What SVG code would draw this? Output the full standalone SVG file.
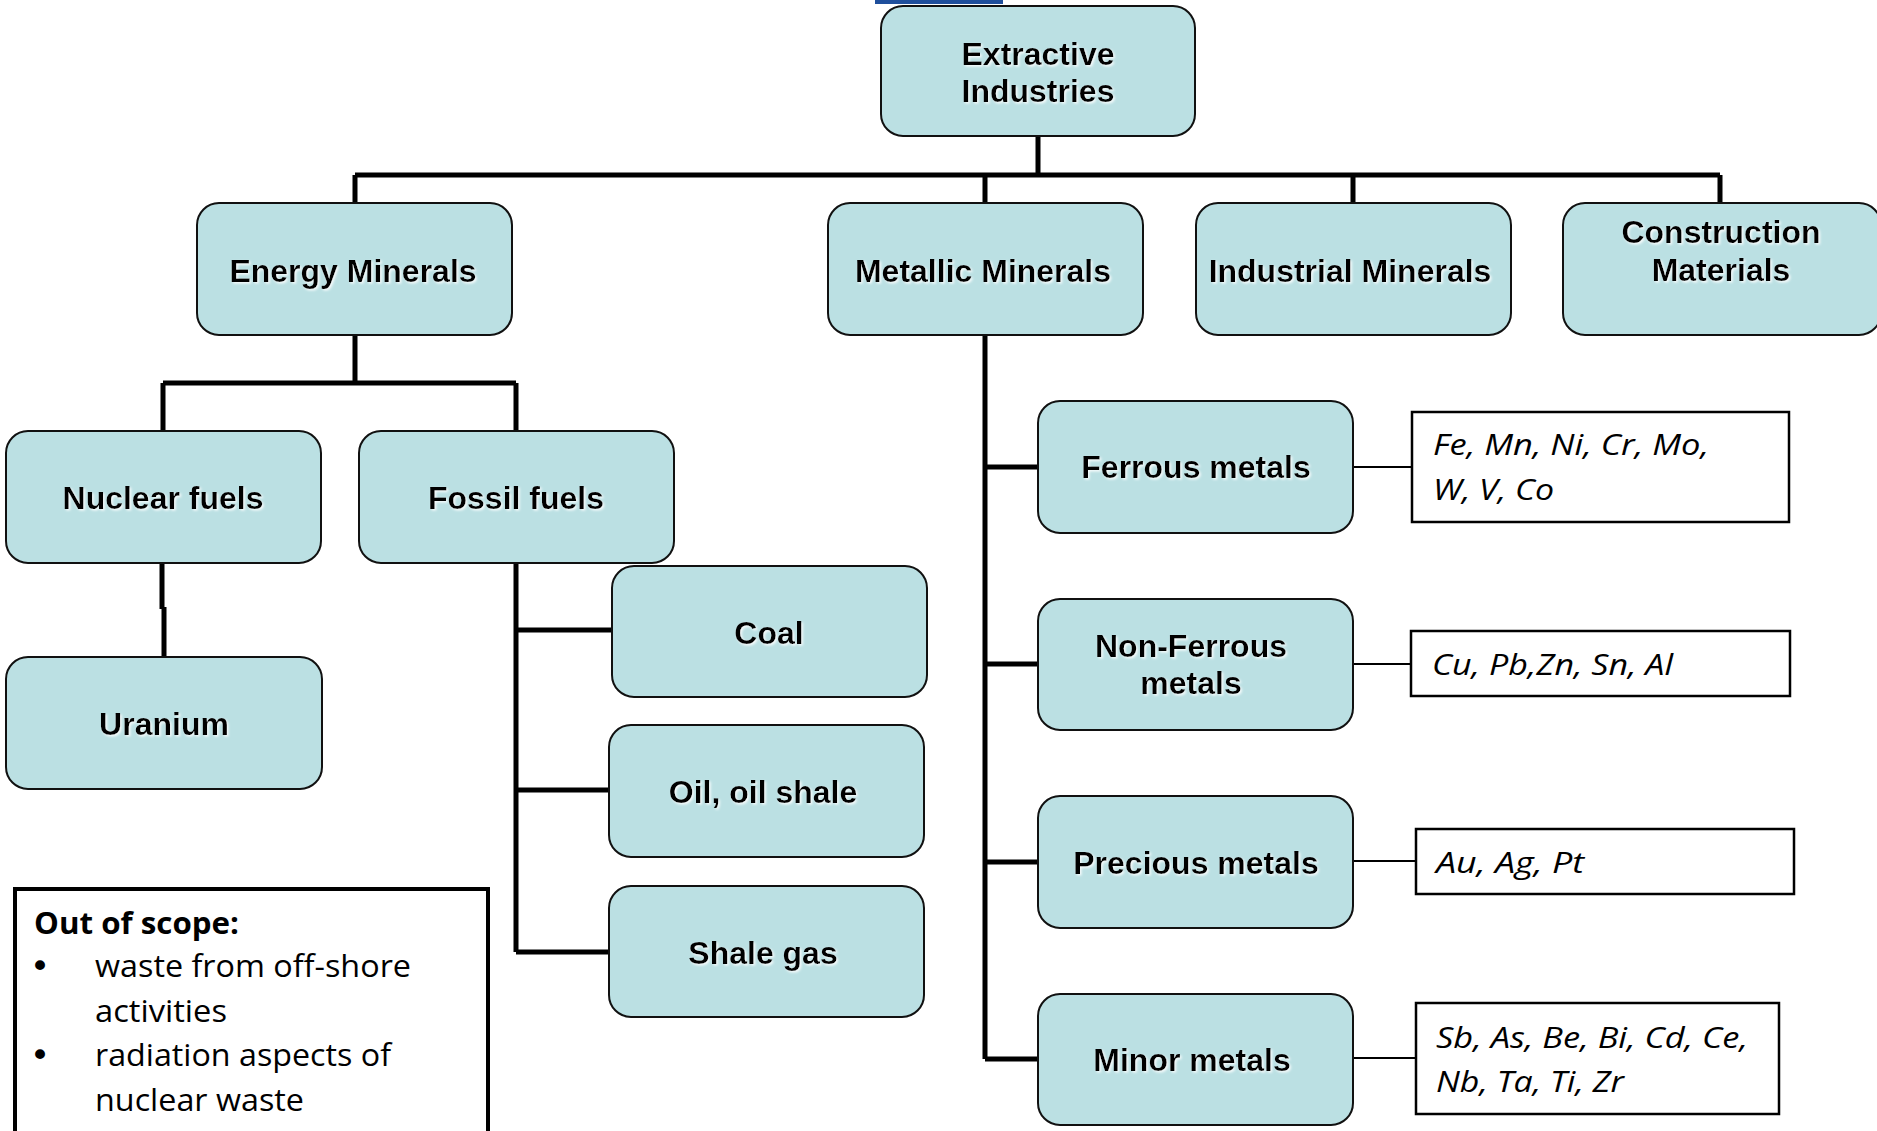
<svg xmlns="http://www.w3.org/2000/svg" width="1877" height="1131" viewBox="0 0 1877 1131">
<style>
.box{fill:#BBE0E3;stroke:#111;stroke-width:2}
.lbl{font-family:"Liberation Sans",Arial,sans-serif;font-weight:bold;font-size:32px;fill:#000;text-anchor:middle;filter:url(#sh)}
.el{fill:#fff;stroke:#000;stroke-width:2.5}
.elt{font-family:"Open Sans","Noto Sans",sans-serif;font-style:italic;font-size:30px;fill:#000}
.thick{fill:none;stroke:#000;stroke-width:5}
.thin{fill:none;stroke:#000;stroke-width:2}
.note{font-family:"Open Sans","Noto Sans",sans-serif;font-size:31px;fill:#000}
.bul{font-family:"DejaVu Sans",sans-serif;font-size:34px;fill:#000;text-anchor:middle}
</style>
<defs>
<filter id="sh" x="-10%" y="-30%" width="120%" height="160%">
<feDropShadow dx="1.5" dy="1.5" stdDeviation="0.8" flood-color="#ffffff" flood-opacity="0.9"/>
</filter>
</defs>
<rect x="0" y="0" width="1877" height="1131" fill="#fff"/>
<rect x="875" y="0" width="128" height="4" fill="#1f4f9c"/>

<g id="connectors">
<path class="thick" d="M1038 136 V175 M355 175 H1720 M355 175 V203 M985 175 V203 M1353 175 V203 M1720 175 V203"/>
<path class="thick" d="M355 335 V383 M163 383 H516 M163 383 V431 M516 383 V431"/>
<path class="thick" d="M162 563 V609 M164 607 V657"/>
<path class="thick" d="M516 563 V952 M516 630 H612 M516 790 H609 M516 952 H609"/>
<path class="thick" d="M985 335 V1059 M985 467 H1038 M985 664 H1038 M985 862 H1038 M985 1059 H1038"/>
<path class="thin" d="M1353 467 H1412 M1353 664 H1411 M1353 861 H1416 M1353 1058 H1416"/>
</g>

<g id="n-extractive"><rect class="box" x="881" y="6" width="314" height="130" rx="22"/><text class="lbl" x="1038" y="65">Extractive</text><text class="lbl" x="1038" y="102">Industries</text></g>
<g id="n-energy"><rect class="box" x="197" y="203" width="315" height="132" rx="22"/><text class="lbl" x="353" y="282">Energy Minerals</text></g>
<g id="n-metallic"><rect class="box" x="828" y="203" width="315" height="132" rx="22"/><text class="lbl" x="983" y="282">Metallic Minerals</text></g>
<g id="n-industrial"><rect class="box" x="1196" y="203" width="315" height="132" rx="22"/><text class="lbl" x="1350" y="282">Industrial Minerals</text></g>
<g id="n-construction"><rect class="box" x="1563" y="203" width="318" height="132" rx="22"/><text class="lbl" x="1721" y="243">Construction</text><text class="lbl" x="1721" y="281">Materials</text></g>
<g id="n-nuclear"><rect class="box" x="6" y="431" width="315" height="132" rx="22"/><text class="lbl" x="163" y="509">Nuclear fuels</text></g>
<g id="n-fossil"><rect class="box" x="359" y="431" width="315" height="132" rx="22"/><text class="lbl" x="516" y="509">Fossil fuels</text></g>
<g id="n-uranium"><rect class="box" x="6" y="657" width="316" height="132" rx="22"/><text class="lbl" x="164" y="735">Uranium</text></g>
<g id="n-coal"><rect class="box" x="612" y="566" width="315" height="131" rx="22"/><text class="lbl" x="769" y="644">Coal</text></g>
<g id="n-oil"><rect class="box" x="609" y="725" width="315" height="132" rx="22"/><text class="lbl" x="763" y="803">Oil, oil shale</text></g>
<g id="n-shale"><rect class="box" x="609" y="886" width="315" height="131" rx="22"/><text class="lbl" x="763" y="964">Shale gas</text></g>
<g id="n-ferrous"><rect class="box" x="1038" y="401" width="315" height="132" rx="22"/><text class="lbl" x="1196" y="478">Ferrous metals</text></g>
<g id="n-nonferrous"><rect class="box" x="1038" y="599" width="315" height="131" rx="22"/><text class="lbl" x="1191" y="657">Non-Ferrous</text><text class="lbl" x="1191" y="694">metals</text></g>
<g id="n-precious"><rect class="box" x="1038" y="796" width="315" height="132" rx="22"/><text class="lbl" x="1196" y="874">Precious metals</text></g>
<g id="n-minor"><rect class="box" x="1038" y="994" width="315" height="131" rx="22"/><text class="lbl" x="1192" y="1071">Minor metals</text></g>

<g id="e-ferrous"><rect class="el" x="1412" y="412" width="377" height="110"/><text class="elt" x="1433" y="455" textLength="276" lengthAdjust="spacingAndGlyphs">Fe, Mn, Ni, Cr, Mo,</text><text class="elt" x="1433" y="500" textLength="121" lengthAdjust="spacingAndGlyphs">W, V, Co</text></g>
<g id="e-nonferrous"><rect class="el" x="1411" y="631" width="379" height="65"/><text class="elt" x="1432" y="675" textLength="241" lengthAdjust="spacingAndGlyphs">Cu, Pb,Zn, Sn, Al</text></g>
<g id="e-precious"><rect class="el" x="1416" y="829" width="378" height="65"/><text class="elt" x="1436" y="873" textLength="148" lengthAdjust="spacingAndGlyphs">Au, Ag, Pt</text></g>
<g id="e-minor"><rect class="el" x="1416" y="1003" width="363" height="111"/><text class="elt" x="1436" y="1048" textLength="312" lengthAdjust="spacingAndGlyphs">Sb, As, Be, Bi, Cd, Ce,</text><text class="elt" x="1436" y="1092" textLength="188" lengthAdjust="spacingAndGlyphs">Nb, Ta, Ti, Zr</text></g>

<g id="out-of-scope">
<rect x="15" y="889" width="473" height="260" fill="#fff" stroke="#000" stroke-width="4"/>
<text class="note" x="34" y="934" font-weight="bold" textLength="205" lengthAdjust="spacingAndGlyphs">Out of scope:</text>
<text class="bul" x="40" y="978">•</text>
<text class="note" x="95" y="977" textLength="316" lengthAdjust="spacingAndGlyphs">waste from off-shore</text>
<text class="note" x="95" y="1022" textLength="132" lengthAdjust="spacingAndGlyphs">activities</text>
<text class="bul" x="40" y="1067">•</text>
<text class="note" x="95" y="1066" textLength="296" lengthAdjust="spacingAndGlyphs">radiation aspects of</text>
<text class="note" x="95" y="1111" textLength="209" lengthAdjust="spacingAndGlyphs">nuclear waste</text>
</g>
</svg>
